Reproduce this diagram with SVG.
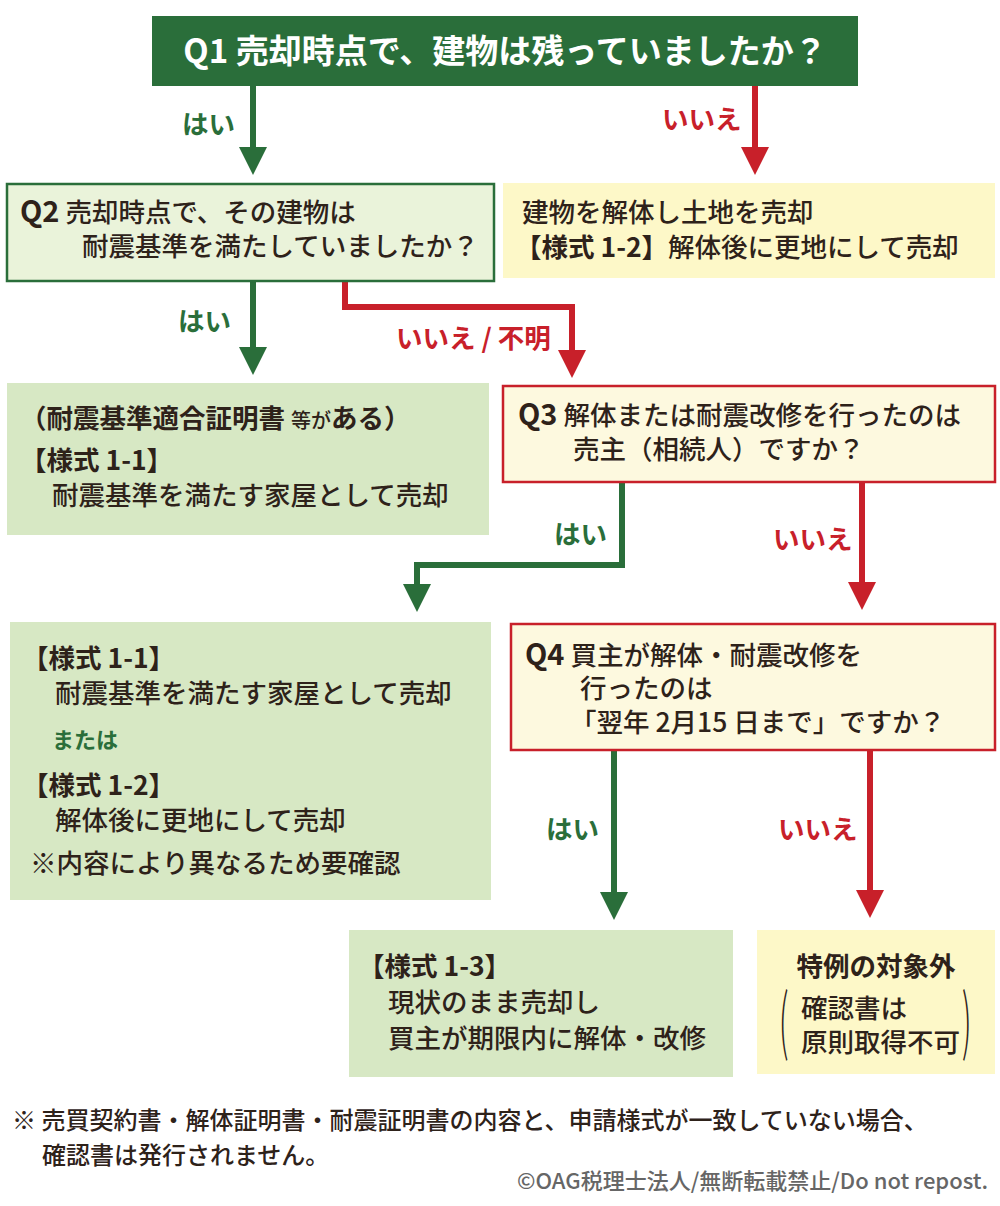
<svg xmlns="http://www.w3.org/2000/svg" width="1000" height="1206" viewBox="0 0 1000 1206">
<style>
text{font-family:"Noto Sans CJK JP","Noto Sans",sans-serif;fill:#2e221a;font-size:26.5px;font-weight:500}
.b{font-weight:700}
.w{fill:#fff}
.g{fill:#2a6e3a;font-weight:700}
.r{fill:#c8202a;font-weight:700}
.lg{stroke:#2a6e3a;stroke-width:6;fill:none}
.lr{stroke:#c8202a;stroke-width:6;fill:none}
</style>
<defs>
<marker id="ag" markerUnits="userSpaceOnUse" markerWidth="30" markerHeight="28" refX="18" refY="14" orient="auto" viewBox="0 0 30 28"><path d="M0,0L28,14L0,28z" fill="#2a6e3a"/></marker>
<marker id="ar" markerUnits="userSpaceOnUse" markerWidth="30" markerHeight="28" refX="18" refY="14" orient="auto" viewBox="0 0 30 28"><path d="M0,0L28,14L0,28z" fill="#c8202a"/></marker>
</defs>
<rect width="1000" height="1206" fill="#fff"/>
<g id="connectors">
<path class="lg" d="M253,86V165" marker-end="url(#ag)"/>
<path class="lr" d="M755,86V165" marker-end="url(#ar)"/>
<path class="lg" d="M253,281V365" marker-end="url(#ag)"/>
<path class="lr" d="M345,281V307H572V368" marker-end="url(#ar)"/>
<path class="lg" d="M622,482V565H417V602" marker-end="url(#ag)"/>
<path class="lr" d="M862,482V600" marker-end="url(#ar)"/>
<path class="lg" d="M614,750V910" marker-end="url(#ag)"/>
<path class="lr" d="M870,750V908" marker-end="url(#ar)"/>
<text class="g" x="182" y="134">はい</text>
<text class="r" x="662" y="129">いいえ</text>
<text class="g" x="178" y="331">はい</text>
<text class="r" x="396" y="348">いいえ / 不明</text>
<text class="g" x="554" y="544">はい</text>
<text class="r" x="773" y="549">いいえ</text>
<text class="g" x="546" y="839">はい</text>
<text class="r" x="778" y="839">いいえ</text>
</g>
<g id="q1"><rect x="152" y="16" width="706" height="70" fill="#2a6e3a"/>
<text class="b w" x="505" y="63" text-anchor="middle" style="font-size:33px">Q1 売却時点で、建物は残っていましたか？</text></g>
<g id="q2"><rect x="7" y="184" width="487" height="97" fill="#eaf3da" stroke="#2a6e3a" stroke-width="2.5"/>
<text x="20" y="222"><tspan class="b" style="font-size:29px">Q2</tspan> 売却時点で、その建物は</text>
<text x="82" y="256">耐震基準を満たしていましたか？</text></g>
<g id="noBuilding"><rect x="503" y="183" width="492" height="95" fill="#fdf8c8"/>
<text x="522" y="222">建物を解体し土地を売却</text>
<text x="515" y="257"><tspan class="b">【様式 1-2】</tspan>解体後に更地にして売却</text></g>
<g id="cert"><rect x="7" y="383" width="482" height="152" fill="#d7e8c4"/>
<text class="b" x="20" y="428">（耐震基準適合証明書 <tspan style="font-size:20px;font-weight:500">等が</tspan>ある）</text>
<text class="b" x="20" y="470">【様式 1-1】</text>
<text x="52" y="505">耐震基準を満たす家屋として売却</text></g>
<g id="q3"><rect x="503" y="386" width="492" height="96" fill="#fdf9df" stroke="#c8202a" stroke-width="2.5"/>
<text x="518" y="425"><tspan class="b" style="font-size:29px">Q3</tspan> 解体または耐震改修を行ったのは</text>
<text x="573" y="459">売主（相続人）ですか？</text></g>
<g id="seller"><rect x="10" y="622" width="481" height="278" fill="#d7e8c4"/>
<text class="b" x="22" y="668">【様式 1-1】</text>
<text x="55" y="703">耐震基準を満たす家屋として売却</text>
<text class="g" x="52" y="748" style="font-size:22px">または</text>
<text class="b" x="22" y="795">【様式 1-2】</text>
<text x="55" y="830">解体後に更地にして売却</text>
<text x="30" y="873">※内容により異なるため要確認</text></g>
<g id="q4"><rect x="511" y="624" width="484" height="126" fill="#fdf9df" stroke="#c8202a" stroke-width="2.5"/>
<text x="525" y="665"><tspan class="b" style="font-size:29px">Q4</tspan> 買主が解体・耐震改修を</text>
<text x="580" y="698">行ったのは</text>
<text x="570" y="732">「翌年 2月15 日まで」ですか？</text></g>
<g id="buyer"><rect x="349" y="930" width="384" height="147" fill="#d7e8c4"/>
<text class="b" x="358" y="976">【様式 1-3】</text>
<text x="388" y="1012">現状のまま売却し</text>
<text x="388" y="1048">買主が期限内に解体・改修</text></g>
<g id="excluded"><rect x="757" y="930" width="238" height="144" fill="#fdf8c8"/>
<text class="b" x="876" y="976" text-anchor="middle">特例の対象外</text>
<text transform="translate(779,1047) scale(1,2.4)" style="font-size:30px;font-weight:300">(</text>
<text transform="translate(962,1047) scale(1,2.4)" style="font-size:30px;font-weight:300">)</text>
<text x="801" y="1018">確認書は</text>
<text x="801" y="1052">原則取得不可</text></g>
<g id="footer">
<text x="12" y="1129" style="font-size:24px">※ 売買契約書・解体証明書・耐震証明書の内容と、申請様式が一致していない場合、</text>
<text x="42" y="1164" style="font-size:24px">確認書は発行されません。</text>
<text x="988" y="1189" text-anchor="end" style="font-size:22px;fill:#666">©OAG税理士法人/無断転載禁止/Do not repost.</text>
</g>
</svg>
